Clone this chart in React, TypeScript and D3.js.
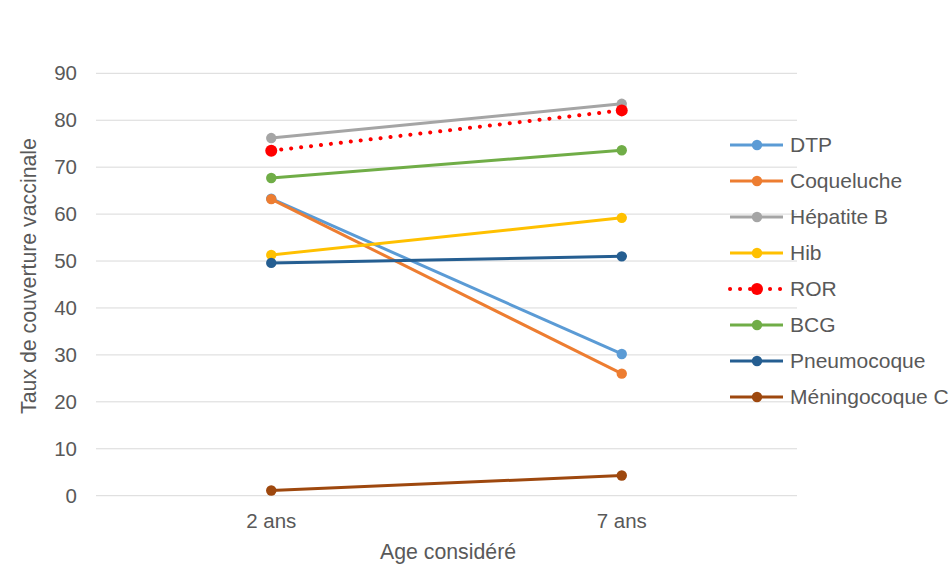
import React from "react";
import * as d3 from "d3";

const categories = ["2 ans", "7 ans"];
const seriesNames = ["DTP", "Coqueluche", "Hépatite B", "Hib", "ROR", "BCG", "Pneumocoque", "Méningocoque C"];
const seriesColors = ["#5B9BD5", "#ED7D31", "#A5A5A5", "#FFC000", "#FF0000", "#70AD47", "#255E91", "#9E480E"];
const dtp = [63.3, 30.2];
const coqueluche = [63.2, 26.0];
const hepatiteB = [76.2, 83.5];
const hib = [51.3, 59.2];
const ror = [73.5, 82.1];
const bcg = [67.7, 73.6];
const pneumocoque = [49.6, 51.0];
const meningocoque = [1.1, 4.3];
const seriesValues = [dtp, coqueluche, hepatiteB, hib, ror, bcg, pneumocoque, meningocoque];
const yTicks = [0, 10, 20, 30, 40, 50, 60, 70, 80, 90];

const W = 952, H = 564;
const font = "'Liberation Sans', Arial, sans-serif";
const textColor = "#595959";

export default function App() {
  const x = d3.scaleBand<string>().domain(categories).range([96, 797]);
  const y = d3.scaleLinear().domain([0, 90]).range([495.7, 73.3]);
  const line = d3.line<number>()
    .x((_, i) => (x(categories[i]) as number) + x.bandwidth() / 2)
    .y((v) => y(v));
  const legendY = d3.scaleLinear().domain([0, 7]).range([145, 397]);

  return (
    <svg width={W} height={H} style={{ position: "absolute", left: 0, top: 0, background: "#fff" }} fontFamily={font}>
      {yTicks.map((t) => (
        <g key={t}>
          <line x1={96} x2={797} y1={y(t)} y2={y(t)} stroke="#D9D9D9" strokeWidth={1} />
          <text x={77} y={y(t)} dy="0.35em" textAnchor="end" fontSize={20.5} fill={textColor}>{t}</text>
        </g>
      ))}
      {categories.map((c) => (
        <text key={c} x={(x(c) as number) + x.bandwidth() / 2} y={521} dy="0.35em" textAnchor="middle" fontSize={20.5} fill={textColor}>{c}</text>
      ))}
      <text x={448} y={559} textAnchor="middle" fontSize={21.3} fill={textColor}>Age considéré</text>
      <text transform={`translate(29,276) rotate(-90)`} dy="0.35em" textAnchor="middle" fontSize={21.3} fill={textColor}>Taux de couverture vaccinale</text>
      {seriesValues.map((vals, si) => {
        const isRor = seriesNames[si] === "ROR";
        return (
          <g key={si}>
            <path d={line(vals) as string} fill="none" stroke={seriesColors[si]}
              strokeWidth={isRor ? 4 : 3}
              strokeDasharray={isRor ? "0.1 9.9" : undefined}
              strokeLinecap={isRor ? "round" : "butt"} />
            {vals.map((v, i) => (
              <circle key={i} cx={(x(categories[i]) as number) + x.bandwidth() / 2} cy={y(v)} r={isRor ? 6 : 5.2} fill={seriesColors[si]} />
            ))}
          </g>
        );
      })}
      {seriesNames.map((n, si) => {
        const ly = legendY(si);
        const isRor = n === "ROR";
        return (
          <g key={n}>
            <line x1={730} x2={783} y1={ly} y2={ly} stroke={seriesColors[si]}
              strokeWidth={isRor ? 4 : 3}
              strokeDasharray={isRor ? "0.1 9.9" : undefined}
              strokeLinecap={isRor ? "round" : "butt"} />
            <circle cx={757} cy={ly} r={isRor ? 6 : 5.2} fill={seriesColors[si]} />
            <text x={790} y={ly} dy="0.35em" fontSize={21} fill={textColor}>{n}</text>
          </g>
        );
      })}
    </svg>
  );
}
